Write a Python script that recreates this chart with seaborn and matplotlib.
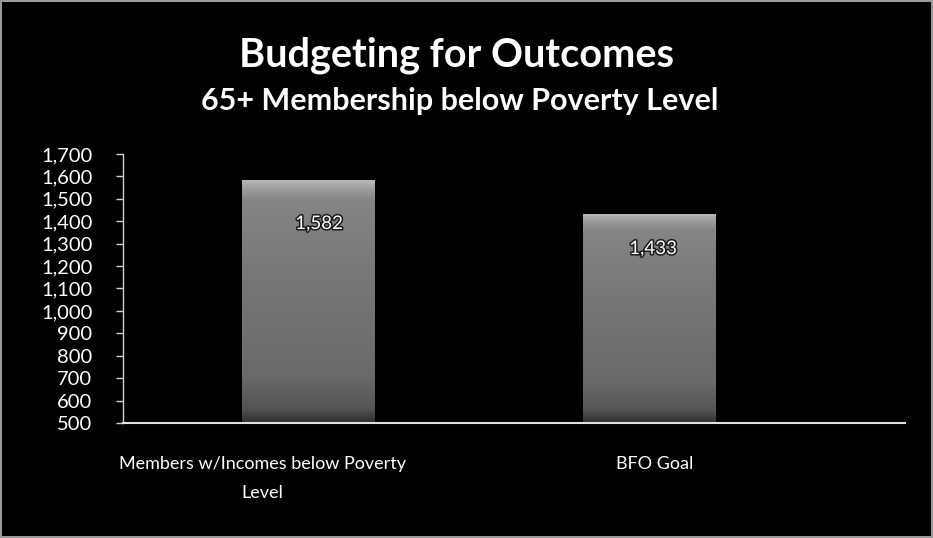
import numpy as np
import pandas as pd
import matplotlib
matplotlib.use("Agg")
import matplotlib.pyplot as plt
import matplotlib.transforms as mtransforms
import matplotlib.patheffects as pe
from matplotlib.colors import LinearSegmentedColormap
import seaborn as sns

categories = ["Members w/Incomes below Poverty\nLevel", "BFO Goal"]
values = [1582, 1433]
value_labels = ["1,582", "1,433"]
yticks = [500, 600, 700, 800, 900, 1000, 1100, 1200, 1300, 1400, 1500, 1600, 1700]
title = "Budgeting for Outcomes"
subtitle = "65+ Membership below Poverty Level"

sns.set_theme(style="dark")
plt.rcParams["font.family"] = ["Lato", "DejaVu Sans"]

df = pd.DataFrame({"category": categories, "value": values})

fig = plt.figure(figsize=(9.33, 5.38), dpi=100, facecolor="black")
fig.patch.set_edgecolor("#9a9a9a")
fig.patch.set_linewidth(1.5)
ax = fig.add_axes([0.1318, 0.2138, 0.8382, 0.5000])
ax.set_facecolor("black")

sns.barplot(data=df, x="category", y="value", color="#747474", width=0.39,
            ax=ax, saturation=1, edgecolor="none")

ax.set_xlim(-0.543, 1.751)
ax.set_ylim(500, 1700)

# gradient fill for bars
cmap = LinearSegmentedColormap.from_list(
    "barg", [(0.0, "#2e2e2e"), (0.06, "#555555"), (0.2, "#6a6a6a"), (0.6, "#777777"),
             (0.92, "#858585"), (0.97, "#a0a0a0"), (1.0, "#b8b8b8")])
grad = np.linspace(0, 1, 256).reshape(-1, 1)
for p in ax.patches:
    x0 = p.get_x()
    w = p.get_width()
    h = p.get_height()
    im = ax.imshow(grad, extent=[x0, x0 + w, 500, h], origin="lower", aspect="auto",
                   cmap=cmap, zorder=p.get_zorder() + 0.1)
    im.set_clip_path(p)

ax.set_xlim(-0.543, 1.751)
ax.set_ylim(500, 1700)

label_offsets = [(8, -31), (3, -25)]
for i, p in enumerate(ax.patches):
    cx = p.get_x() + p.get_width() / 2
    ax.annotate(value_labels[i], xy=(cx, p.get_height()), xytext=label_offsets[i],
                textcoords="offset points", ha="center", va="center",
                color="white", fontsize=13.5,
                path_effects=[pe.withStroke(linewidth=2.2, foreground="#1a1a1a")], zorder=5)

ax.set_yticks(yticks)
ax.set_yticklabels([f"{v:,}" for v in yticks], color="white", fontsize=14.5)
ax.tick_params(axis="y", length=5, width=1, color="#d0d0d0", left=True, pad=17)
ax.tick_params(axis="x", length=0, pad=24, labelsize=13, labelcolor="white")
for lab in ax.get_xticklabels():
    lab.set_multialignment("center")
    lab.set_linespacing(2.0)
xl = ax.get_xticklabels()
xl[0].set_transform(xl[0].get_transform() + mtransforms.ScaledTranslation(-46 / 100, 0, fig.dpi_scale_trans))
xl[1].set_transform(xl[1].get_transform() + mtransforms.ScaledTranslation(6 / 100, 0, fig.dpi_scale_trans))

ax.set_xlabel("")
ax.set_ylabel("")
ax.grid(False)
for s in ["top", "right"]:
    ax.spines[s].set_visible(False)
ax.spines["left"].set_color("#d0d0d0")
ax.spines["bottom"].set_color("#e0e0e0")
ax.spines["left"].set_linewidth(1)
ax.spines["bottom"].set_linewidth(1.5)

fig.text(0.4898, 1 - 55 / 538, title, ha="center", va="center", color="white",
         fontsize=28.5, fontweight="bold")
fig.text(0.4925, 1 - 101 / 538, subtitle, ha="center", va="center", color="white",
         fontsize=22, fontweight="bold")

fig.savefig("out.png", dpi=100, facecolor=fig.get_facecolor(), edgecolor=fig.get_edgecolor())
